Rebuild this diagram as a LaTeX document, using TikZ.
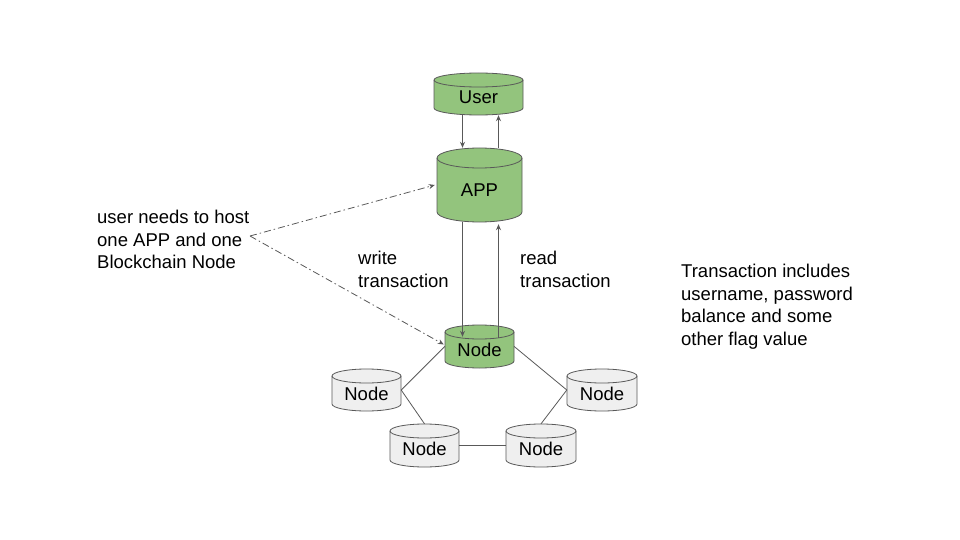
\documentclass[tikz,border=0pt]{standalone}
\usepackage{fontspec}
\setmainfont{Liberation Sans}
\usetikzlibrary{arrows.meta}
\definecolor{greenfill}{HTML}{93C47D}
\definecolor{grayfill}{HTML}{EFEFEF}
\definecolor{linec}{HTML}{595959}
\tikzset{
  cylline/.style={draw=linec, line width=0.8pt},
  lbl/.style={font=\fontsize{18.5}{22}\selectfont, inner sep=0pt},
  para/.style={font=\fontsize{18.5}{22.5}\selectfont, align=left, inner sep=0pt, anchor=north west},
  arr/.style={draw=linec, line width=0.8pt, -{Stealth[length=6pt,width=5pt]}},
  dasharr/.style={draw=linec, line width=0.8pt, dash pattern=on 7pt off 3pt on 1.5pt off 3pt, -{Stealth[length=6pt,width=5pt]}},
  peer/.style={draw=linec, line width=0.8pt}
}
\newcommand\dbcyl[8]{%
  \pgfmathsetmacro\cylA{(#2+#3)/2}%
  \pgfmathsetmacro\cylR{(#3-#2)/2}%
  \filldraw[cylline, fill=#7] (#2,-#4-#6) -- (#2,-#5+#6)
     arc[start angle=180,end angle=360,x radius=\cylR,y radius=#6]
     -- (#3,-#4-#6)
     arc[start angle=0,end angle=180,x radius=\cylR,y radius=#6] -- cycle;
  \draw[cylline] (#2,-#4-#6) arc[start angle=180,end angle=360,x radius=\cylR,y radius=#6];
  \node[inner sep=0pt, minimum width=#3-#2, minimum height=#5-#4] (#1) at (\cylA,{-(#4+#5)/2}) {};
  \node[lbl] (#1-t) at (\cylA,{-(#4+#5)/2-#6/2}) {#8};
}
\begin{document}
\begin{tikzpicture}[x=1pt,y=1pt]
\useasboundingbox (0,0) rectangle (960,-540);
\dbcyl{user}{434}{523}{73}{115}{7}{greenfill}{User}
\dbcyl{app}{437}{522}{148}{222}{10}{greenfill}{APP}
\dbcyl{gn}{445}{514}{325}{368}{7}{greenfill}{Node}
\dbcyl{ln}{332}{401}{369}{411}{7}{grayfill}{Node}
\dbcyl{rn}{567}{637}{369}{411}{7}{grayfill}{Node}
\dbcyl{bl}{390}{459}{424}{467}{7}{grayfill}{Node}
\dbcyl{br}{506}{576}{424}{467}{7}{grayfill}{Node}

% user <-> app
\draw[arr] ([xshift=-16pt]user.south) -- ([xshift=-17pt]app.north);
\draw[arr] ([xshift=19pt]app.north) -- ([xshift=20pt]user.south);
% app <-> node
\draw[arr] ([xshift=-17pt]app.south) -- ([xshift=-17pt,yshift=-12pt]gn.north);
\draw[arr] ([xshift=19pt,yshift=-13pt]gn.north) -- ([xshift=19pt,yshift=-2pt]app.south);

% peer network
\draw[peer] (gn.west) -- (ln.east);
\draw[peer] (ln.east) -- (bl.north);
\draw[peer] (bl.east) -- (br.west);
\draw[peer] (br.north) -- (rn.west);
\draw[peer] (rn.west) -- (gn.east);

% annotation
\node[para] (note) at (97,-210) {user needs to host\\one APP and one\\Blockchain Node};
\coordinate (nsrc) at (250,-236);
\draw[dasharr] (nsrc) -- ([xshift=-2pt]app.west);
\draw[dasharr] (nsrc) -- ([xshift=-1pt,yshift=2pt]gn.west);

\node[para] (wt) at (358,-251) {write\\transaction};
\node[para] (rt) at (520,-251) {read\\transaction};
\node[para] (tx) at (681,-264) {Transaction includes\\username, password\\balance and some\\other flag value};
\end{tikzpicture}
\end{document}
